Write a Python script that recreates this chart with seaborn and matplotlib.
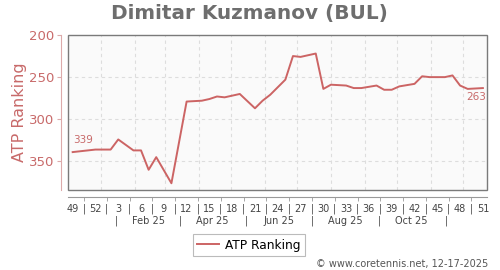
import matplotlib
matplotlib.use("Agg")
import matplotlib.pyplot as plt
import matplotlib.dates as mdates
import matplotlib.transforms as mtransforms
from matplotlib.patches import Rectangle
import seaborn as sns
import pandas as pd
import numpy as np

# ---- data ----
start_date = "2024-12-06"          # week 49 of 2024
week_offsets = [0, 3, 5, 6, 8, 9, 10, 11, 13, 15, 17, 18, 19, 20, 22, 24, 25, 26,
                28, 29, 30, 32, 33, 34, 36, 37, 38, 40, 41, 42, 43, 45, 46, 47,
                49, 50, 51, 52, 54]
ranks = [339, 336, 336, 324, 337, 337, 360, 345, 376, 279, 278, 276, 273, 274,
         270, 287, 278, 271, 253, 225, 226, 222, 264, 259, 260, 263, 263, 260,
         265, 265, 261, 258, 249, 250, 250, 248, 260, 264, 263]
week_labels = ["49", "52", "3", "6", "9", "12", "15", "18", "21", "24", "27",
               "30", "33", "36", "39", "42", "45", "48", "51"]
month_labels = ["Feb 25", "Apr 25", "Jun 25", "Aug 25", "Oct 25"]
month_label_dates = ["2025-02-14", "2025-04-14", "2025-06-14", "2025-08-14", "2025-10-14"]
month_sep_dates = ["2025-01-15", "2025-03-15", "2025-05-15", "2025-07-15",
                   "2025-09-15", "2025-11-15"]
month_grid_dates = pd.date_range("2025-01-01", "2025-12-01", freq="MS")
y_ticks = [200, 250, 300, 350]

base = pd.Timestamp(start_date)
df = pd.DataFrame({
    "date": base + pd.to_timedelta(np.array(week_offsets) * 7, unit="D"),
    "rank": ranks,
})

LINE = "#cc6464"
PINK_TXT = "#c86a6a"
GRID = "#dddddd"

fig = plt.figure(figsize=(5.0, 2.7), dpi=100)
ax = fig.add_axes([68 / 500, 1 - 190 / 270, (487 - 68) / 500, (190 - 35) / 270])
ax.set_facecolor("#fafafa")

sns.lineplot(data=df, x="date", y="rank", color=LINE, linewidth=1.4, ax=ax,
             label="ATP Ranking", zorder=3)

# limits
ax.set_xlim(base - pd.Timedelta(days=4.3), base + pd.Timedelta(days=54 * 7 + 3.8))
ax.set_ylim(384, 200)

# grid
for d in month_grid_dates:
    ax.axvline(d, color=GRID, lw=0.8, ls=(0, (3, 3)), zorder=1)
for yv in y_ticks[1:]:
    ax.axhline(yv, color=GRID, lw=0.8, ls=(0, (3, 3)), zorder=1)

# frame
ax.add_patch(Rectangle((0, 0), 1, 1, transform=ax.transAxes, fill=False,
                       edgecolor="#7a7a7a", lw=1.0, zorder=4, clip_on=False))
for s in ["top", "right"]:
    ax.spines[s].set_visible(False)
ax.spines["left"].set_position(("outward", 5))
ax.spines["left"].set_color("#dcaaaa")
ax.spines["left"].set_bounds(200, 384)
ax.spines["bottom"].set_position(("outward", 5))
ax.spines["bottom"].set_color("#999999")

# y ticks
ax.set_yticks(y_ticks)
ax.tick_params(axis="y", colors="#dcaaaa", labelcolor=PINK_TXT, labelsize=9.5,
               length=3, pad=2)
ax.set_ylabel("ATP Ranking", color=PINK_TXT, fontsize=11.5)
ax.yaxis.set_label_coords(-0.097, 0.5)

# x ticks
tick_dates = [base + pd.Timedelta(days=7 * 3 * i) for i in range(len(week_labels))]
ax.set_xticks(mdates.date2num(tick_dates))
ax.set_xticklabels(week_labels)
mid_dates = [base + pd.Timedelta(days=7 * (3 * i + 1.5)) for i in range(len(week_labels) - 1)]
ax.set_xticks(mdates.date2num(mid_dates), minor=True)
ax.set_xticklabels(["|"] * len(mid_dates), minor=True)
ax.tick_params(axis="x", which="major", length=0, labelsize=7, labelcolor="#444444", pad=5)
ax.tick_params(axis="x", which="minor", length=3, color="#999999", labelsize=7,
               labelcolor="#444444", pad=2)
ax.set_xlabel("")

trans = mtransforms.blended_transform_factory(ax.transData, ax.transAxes)
for d, lab in zip(month_label_dates, month_labels):
    ax.text(mdates.date2num(pd.Timestamp(d)), -0.197, lab, transform=trans,
            ha="center", va="center", fontsize=7, color="#444444")
for d in month_sep_dates:
    ax.text(mdates.date2num(pd.Timestamp(d)), -0.197, "|", transform=trans,
            ha="center", va="center", fontsize=7, color="#444444")

# end labels
ax.annotate(str(ranks[0]), (df["date"].iloc[0], ranks[0]), xytext=(0, 5),
            textcoords="offset points", ha="left", va="bottom", fontsize=7.5, color=PINK_TXT)
ax.annotate(str(ranks[-1]), (df["date"].iloc[-1], ranks[-1]), xytext=(2, -3),
            textcoords="offset points", ha="right", va="top", fontsize=7.5, color=PINK_TXT)

# title
fig.text(0.499, 1 - 13 / 270, "Dimitar Kuzmanov (BUL)", ha="center", va="center",
         fontsize=14.4, fontweight="bold", color="#6e6e6e")

# legend
ax.get_legend().remove()
h, l = ax.get_legend_handles_labels()
leg = fig.legend(h, l, loc="center", bbox_to_anchor=(0.498, 1 - 245 / 270),
                 fontsize=8.7, frameon=True, fancybox=False, edgecolor="#aaaaaa",
                 handlelength=1.8, borderpad=0.35, handletextpad=0.5)
leg.get_frame().set_linewidth(0.8)

fig.text(0.976, 1 - 264.5 / 270, "© www.coretennis.net, 12-17-2025", ha="right",
         va="center", fontsize=7, color="#555555")

fig.savefig("out.png", dpi=100)
